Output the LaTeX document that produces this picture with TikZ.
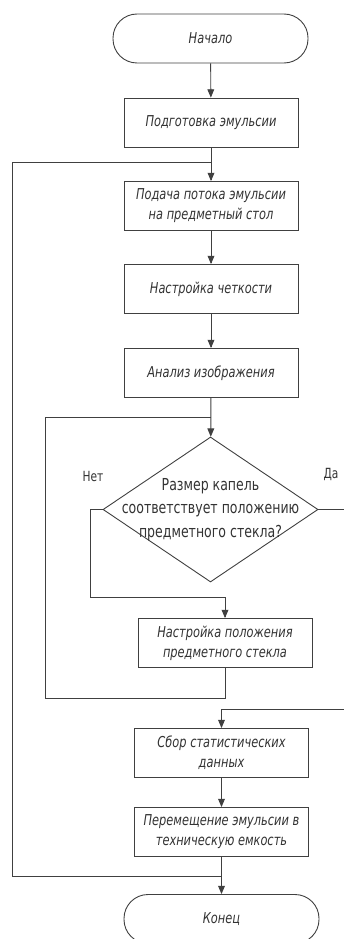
\documentclass[tikz,border=0pt]{standalone}
\usepackage{fontspec}
\setmainfont{DejaVu Sans}[FakeStretch=0.76]
\usetikzlibrary{arrows,shapes.geometric}

\begin{document}
\begin{tikzpicture}[x=1pt,y=-1pt,->,>=triangle 45,line width=0.9pt,draw=black!75,
  text=black!80,font=\fontsize{14}{20}\selectfont,
  block node/.style={rectangle,draw,minimum width=174pt,minimum height=49pt,
    align=center,inner sep=2pt,font=\fontsize{15}{20}\selectfont\itshape},
  term node/.style={rectangle,draw,rounded corners=24pt,minimum width=195pt,
    minimum height=49pt,font=\fontsize{15}{20}\selectfont\itshape},
  decision node/.style={diamond,draw,minimum width=215pt,minimum height=145pt,inner sep=0pt},
  dec text/.style={align=center,font=\fontsize{16.5}{23.5}\selectfont}]
  \useasboundingbox (0,0) rectangle (344,939);

  \node[term node] (start) at (210.5,38.5) {Начало};
  \node[block node] (prep) at (211,122.5) {Подготовка эмульсии};
  \node[block node] (feed) at (211,206) {Подача потока эмульсии\\на предметный стол};
  \node[block node] (focus) at (211,289) {Настройка четкости};
  \node[block node] (anal) at (211,373) {Анализ изображения};
  \node[decision node] (dec) at (210.5,509.5) {};
  \node[dec text] (dectext) at (dec) {Размер капель\\соответствует положению\\предметного стекла?};
  \node[block node] (adjust) at (225,643) {Настройка положения\\предметного стекла};
  \node[block node] (stats) at (221.5,753) {Сбор статистических\\данных};
  \node[block node] (move) at (221.5,832) {Перемещение эмульсии в\\техническую емкость};
  \node[term node] (end) at (221.5,919) {Конец};
  \node (no) at (93,476) {Нет};
  \node (yes) at (331,474) {Да};

  \coordinate (j1) at (211,162);
  \coordinate (j2) at (211,417);
  \coordinate (j3) at (221.5,876);

  \draw (start) -- (prep);
  \draw (prep) -- (feed);
  \draw (feed) -- (focus);
  \draw (focus) -- (anal);
  \draw (anal) -- (dec);
  \draw (dec.west) -| (90,597) -| (adjust.north);
  \draw[-] (adjust.south) -- ++(0,30) -| (45,417) -- (j2);
  \draw (dec.east) -| (350,709) -| (stats.north);
  \draw (stats) -- (move);
  \draw (move) -- (end);
  \draw[-] (j3) -| (12,162) -- (j1);
\end{tikzpicture}
\end{document}
